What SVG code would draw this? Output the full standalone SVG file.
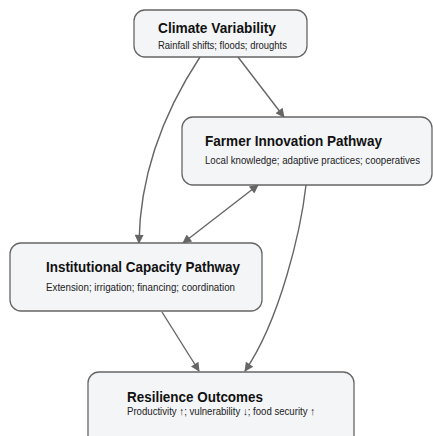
<svg xmlns="http://www.w3.org/2000/svg" width="433" height="436" viewBox="0 0 433 436">
<defs>
<style>
.box{fill:#f4f5f7;stroke:#666;stroke-width:1.3}
.t{font-family:"Liberation Sans",Arial,sans-serif;font-weight:bold;font-size:15px;fill:#111}
.s{font-family:"Liberation Sans",Arial,sans-serif;font-size:11px;fill:#222}
.e{fill:none;stroke:#666;stroke-width:1.4}
</style>
<marker id="ah" viewBox="0 0 10 10" refX="9" refY="5" markerWidth="11" markerHeight="9" markerUnits="userSpaceOnUse" orient="auto-start-reverse">
<path d="M0,0 L10,5 L0,10 z" fill="#666"/>
</marker>
</defs>
<rect width="433" height="436" fill="#fff"/>
<g id="edges">
<path class="e" d="M238,57 L284,117" marker-end="url(#ah)"/>
<path class="e" d="M200,57 C175,95 140,160 139,243" marker-end="url(#ah)"/>
<path class="e" d="M258,185 L183,243" marker-start="url(#ah)" marker-end="url(#ah)"/>
<path class="e" d="M162,312 L199,371" marker-end="url(#ah)"/>
<path class="e" d="M306,185 C301,230 280,320 245,371" marker-end="url(#ah)"/>
</g>
<g id="climate">
<rect class="box" x="134" y="10" width="173" height="47" rx="11"/>
<text class="t" x="158" y="32.5" textLength="118" lengthAdjust="spacingAndGlyphs">Climate Variability</text>
<text class="s" x="158" y="48.5" textLength="129" lengthAdjust="spacingAndGlyphs">Rainfall shifts; floods; droughts</text>
</g>
<g id="farmer">
<rect class="box" x="182" y="117" width="250" height="68" rx="11"/>
<text class="t" x="205" y="146" textLength="177" lengthAdjust="spacingAndGlyphs">Farmer Innovation Pathway</text>
<text class="s" x="205" y="164" textLength="215" lengthAdjust="spacingAndGlyphs">Local knowledge; adaptive practices; cooperatives</text>
</g>
<g id="institutional">
<rect class="box" x="10" y="243" width="252" height="68" rx="11"/>
<text class="t" x="46" y="272" textLength="194" lengthAdjust="spacingAndGlyphs">Institutional Capacity Pathway</text>
<text class="s" x="46" y="291" textLength="189" lengthAdjust="spacingAndGlyphs">Extension; irrigation; financing; coordination</text>
</g>
<g id="resilience">
<rect class="box" x="88" y="372" width="266" height="80" rx="11"/>
<text class="t" x="127" y="401.5" textLength="136" lengthAdjust="spacingAndGlyphs">Resilience Outcomes</text>
<text class="s" x="127" y="414.5" textLength="188" lengthAdjust="spacingAndGlyphs">Productivity ↑; vulnerability ↓; food security ↑</text>
</g>
</svg>
